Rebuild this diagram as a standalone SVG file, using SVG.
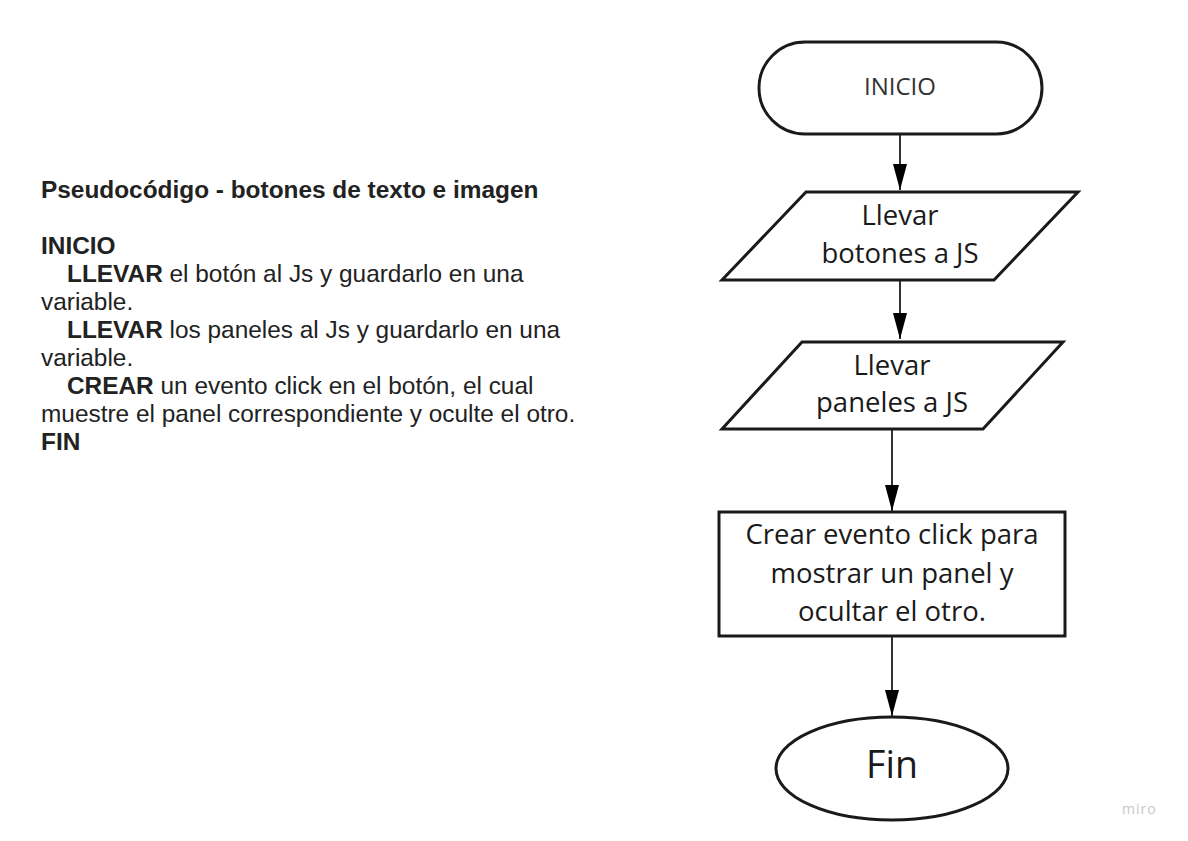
<svg xmlns="http://www.w3.org/2000/svg" width="1188" height="841" viewBox="0 0 1188 841">
<defs>
<marker id="arr" viewBox="0 0 26 14" refX="26" refY="7" markerWidth="26" markerHeight="14" markerUnits="userSpaceOnUse" orient="auto">
<path d="M0,0 L26,7 L0,14 Z" fill="#000"/>
</marker>
<style>
.shape{fill:#fff;stroke:#1a1a1a;stroke-width:3}
.lbl{font-family:"Open Sans","Noto Sans",sans-serif;fill:#1a1a1a;text-anchor:middle;font-size:27.5px}
.conn{stroke:#000;stroke-width:1.6;fill:none;marker-end:url(#arr)}
.ps{font-family:"Liberation Sans",Arial,sans-serif;font-size:24.4px;fill:#222}
.b{font-weight:bold}
</style>
</defs>
<rect width="1188" height="841" fill="#fff"/>
<g id="pseudocode" class="ps">
<text x="41" y="198" class="b">Pseudocódigo - botones de texto e imagen</text>
<text x="41" y="254" class="b">INICIO</text>
<text x="67" y="282"><tspan class="b">LLEVAR</tspan> el botón al Js y guardarlo en una</text>
<text x="41" y="310">variable.</text>
<text x="67" y="338"><tspan class="b">LLEVAR</tspan> los paneles al Js y guardarlo en una</text>
<text x="41" y="366">variable.</text>
<text x="67" y="394"><tspan class="b">CREAR</tspan> un evento click en el botón, el cual</text>
<text x="41" y="422">muestre el panel correspondiente y oculte el otro.</text>
<text x="41" y="450" class="b">FIN</text>
</g>
<g id="connectors">
<line class="conn" x1="900" y1="135" x2="900" y2="190"/>
<line class="conn" x1="900" y1="281" x2="900" y2="339"/>
<line class="conn" x1="892" y1="430" x2="892" y2="511"/>
<line class="conn" x1="892" y1="637" x2="892" y2="716"/>
</g>
<g id="inicio">
<rect class="shape" x="759" y="42" width="283" height="92" rx="46" ry="46"/>
<text class="lbl" x="900" y="95" style="font-size:24px;fill:#333">INICIO</text>
</g>
<g id="llevar-botones">
<polygon class="shape" points="806,192 1078,192 994,280 722,280"/>
<text class="lbl" x="900" y="225">Llevar</text>
<text class="lbl" x="900" y="263">botones a JS</text>
</g>
<g id="llevar-paneles">
<polygon class="shape" points="802,342 1063,342 983,429 722,429"/>
<text class="lbl" x="892" y="375">Llevar</text>
<text class="lbl" x="892" y="412">paneles a JS</text>
</g>
<g id="crear-evento">
<rect class="shape" x="719" y="512" width="346" height="124"/>
<text class="lbl" x="892" y="544">Crear evento click para</text>
<text class="lbl" x="892" y="583">mostrar un panel y</text>
<text class="lbl" x="892" y="621">ocultar el otro.</text>
</g>
<g id="fin">
<ellipse class="shape" cx="892" cy="768.5" rx="116" ry="51.5"/>
<text class="lbl" x="892" y="778" style="font-size:37.5px">Fin</text>
</g>
<text x="1122" y="814" style="font-family:'Open Sans',sans-serif;font-size:14px;fill:#c8c8c8;letter-spacing:1px">miro</text>
</svg>
